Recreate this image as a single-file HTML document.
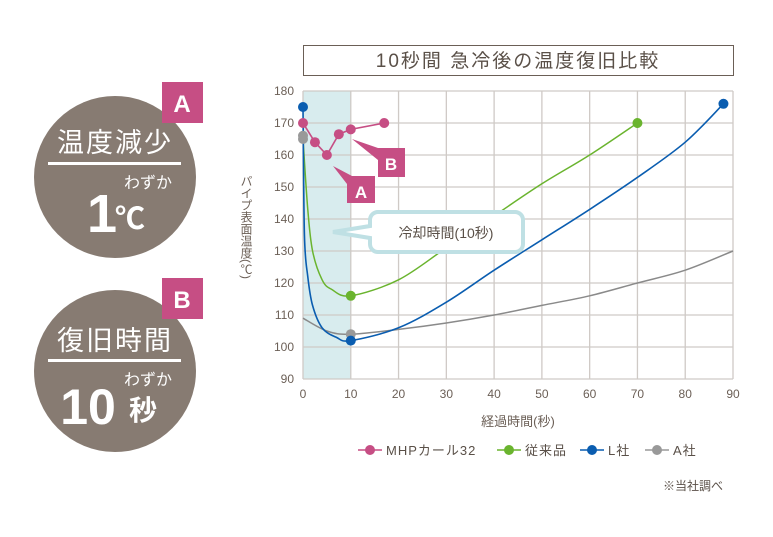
<!DOCTYPE html>
<html><head><meta charset="utf-8">
<style>
html,body{margin:0;padding:0;background:#fff;}
svg{display:block;font-family:"Liberation Sans","Noto Sans CJK JP",sans-serif;}
</style></head><body>
<svg id="c" width="773" height="537" viewBox="0 0 773 537" xmlns="http://www.w3.org/2000/svg">
  <g>
    <circle cx="115" cy="177" r="81" fill="#877b72"/>
    <text x="115" y="152" text-anchor="middle" font-size="27" fill="#fff" letter-spacing="2">温度減少</text>
    <rect x="48" y="162" width="133" height="3" fill="#fff"/>
    <text x="148" y="188" text-anchor="middle" font-size="16" fill="#fff">わずか</text>
    <text x="102" y="232" text-anchor="middle" font-size="54" font-weight="bold" fill="#fff">1</text>
    <text x="130" y="229" text-anchor="middle" font-size="30" font-weight="bold" fill="#fff">℃</text>
  </g>
  <rect x="162" y="82" width="41" height="41" fill="#c64e84"/>
  <text x="182" y="112" text-anchor="middle" font-size="24" font-weight="bold" fill="#fff">A</text>
  <g>
    <circle cx="115" cy="371" r="81" fill="#877b72"/>
    <text x="115" y="350" text-anchor="middle" font-size="27" fill="#fff" letter-spacing="2">復旧時間</text>
    <rect x="48" y="359" width="133" height="3" fill="#fff"/>
    <text x="148" y="385" text-anchor="middle" font-size="16" fill="#fff">わずか</text>
    <text x="88" y="424" text-anchor="middle" font-size="50" font-weight="bold" fill="#fff">10</text>
    <text x="143" y="420" text-anchor="middle" font-size="28" font-weight="bold" fill="#fff">秒</text>
  </g>
  <rect x="162" y="278" width="41" height="41" fill="#c64e84"/>
  <text x="182" y="308" text-anchor="middle" font-size="24" font-weight="bold" fill="#fff">B</text>

  <rect x="303.5" y="45.5" width="430" height="30" fill="#fff" stroke="#6b5f56"/>
  <text x="518" y="67" text-anchor="middle" font-size="19" fill="#5a5048" letter-spacing="2">10秒間 急冷後の温度復旧比較</text>

  <g id="plot"></g>

  <text x="518" y="426" text-anchor="middle" font-size="13" fill="#6b5f56">経過時間(秒)</text>
  <text transform="translate(246,175)" font-size="12" fill="#6b5f56" writing-mode="tb">パイプ表面温度(℃)</text>

  <g id="legend"></g>
  <text x="663" y="490" font-size="12" fill="#5a5048">※当社調べ</text>
</svg>
<script>
const xTicks=[0,10,20,30,40,50,60,70,80,90];
const yTicks=[90,100,110,120,130,140,150,160,170,180];
const mhpX=[0,2.5,5,7.5,10,17];
const mhpY=[170,164,160,166.5,168,170];
const convX=[0,1,2,4,6,10,20,30,40,50,60,70];
const convY=[165,143,130,121,118,116,121,131,141,151,160,170];
const lX=[0,0.3,1,2,4,7,10,20,30,40,50,60,70,80,88];
const lY=[175,135,122,113,106,103,102,106,114,124,133.5,143,153,164,176];
const aX=[0,5,10,20,30,40,50,60,70,80,90];
const aY=[109,105,104,105.5,107.5,110,113,116,120,124,130];
const grayDotX=[0,10];
const grayDotY=[166,104];
const ns="http://www.w3.org/2000/svg";
const X0=303,X1=733,Y0=379,Y1=91;
const sx=v=>X0+(v-0)/(90-0)*(X1-X0);
const sy=v=>Y0-(v-90)/(180-90)*(Y0-Y1);
const plot=document.getElementById('plot');
function mk(tag,attrs,parent){const e=document.createElementNS(ns,tag);for(const k in attrs)e.setAttribute(k,attrs[k]);(parent||plot).appendChild(e);return e;}
let e;
e=mk('rect',{x:sx(0),y:sy(180),width:sx(10)-sx(0),height:sy(90)-sy(180),fill:'#d8ecee'});


xTicks.forEach(t=>{
  e=mk('line',{x1:sx(t),x2:sx(t),y1:sy(180),y2:sy(90),stroke:'#cfcac6','stroke-width':1.3});
  
  
  e=mk('text',{x:sx(t),y:398,'text-anchor':'middle','font-size':12,fill:'#6b5f56'});e.textContent=t;
  
  
});
yTicks.forEach(t=>{
  e=mk('line',{x1:sx(0),x2:sx(90),y1:sy(t),y2:sy(t),stroke:'#cfcac6','stroke-width':1.3});
  
  
  e=mk('text',{x:294,y:sy(t)+4,'text-anchor':'end','font-size':12,fill:'#6b5f56'});e.textContent=t;
  
  
});
function smooth(xs,ys){
  const p=xs.map((x,i)=>[sx(x),sy(ys[i])]);
  let d='M'+p[0][0]+','+p[0][1];
  for(let i=0;i<p.length-1;i++){
    const p0=p[Math.max(0,i-1)],p1=p[i],p2=p[i+1],p3=p[Math.min(p.length-1,i+2)];
    const c1=[p1[0]+(p2[0]-p0[0])/6,p1[1]+(p2[1]-p0[1])/6];
    const c2=[p2[0]-(p3[0]-p1[0])/6,p2[1]-(p3[1]-p1[1])/6];
    d+=' C'+c1+' '+c2+' '+p2;
  }
  return d;
}
e=mk('path',{d:smooth(aX,aY),fill:'none',stroke:'#8a8a8a','stroke-width':1.5});


e=mk('path',{d:smooth(convX,convY),fill:'none',stroke:'#6ab42e','stroke-width':1.5});


e=mk('path',{d:smooth(lX,lY),fill:'none',stroke:'#0a5db0','stroke-width':1.6});


e=mk('polyline',{points:mhpX.map((x,i)=>sx(x)+','+sy(mhpY[i])).join(' '),fill:'none',stroke:'#c64e84','stroke-width':1.6});


function dot(x,y,c,name){e=mk('circle',{cx:sx(x),cy:sy(y),r:5,fill:c});
  
  }
grayDotX.forEach((x,i)=>dot(x,grayDotY[i],'#999','series-a-point'));
dot(convX[0],convY[0],'#999','series-conventional-start');
dot(convX[5],convY[5],'#6ab42e','series-conventional-point');
dot(convX[convX.length-1],convY[convY.length-1],'#6ab42e','series-conventional-point');
dot(lX[0],lY[0],'#0a5db0','series-l-point');
dot(10,102,'#0a5db0','series-l-point');
dot(lX[lX.length-1],lY[lY.length-1],'#0a5db0','series-l-point');
mhpX.forEach((x,i)=>dot(x,mhpY[i],'#c64e84','series-mhp-point'));
// callout
e=mk('path',{d:'M378,212 H515 a8,8 0 0 1 8,8 V244 a8,8 0 0 1 -8,8 H378 a8,8 0 0 1 -8,-8 V238 L333,232 L370,226 V220 a8,8 0 0 1 8,-8 Z',fill:'#fff',stroke:'#bfe0e4','stroke-width':4});


e=mk('text',{x:446,y:238,'text-anchor':'middle','font-size':14,fill:'#5a5048'});e.textContent='冷却時間(10秒)';


// A/B markers
e=mk('path',{d:'M333,166 L352,176 H375 V203 H347 V184 Z',fill:'#c64e84'});


e=mk('text',{x:361,y:198,'text-anchor':'middle','font-size':17,'font-weight':'bold',fill:'#fff'});e.textContent='A';
e=mk('path',{d:'M352,139 L378,148 H405 V177 H378 V160 Z',fill:'#c64e84'});


e=mk('text',{x:391,y:170,'text-anchor':'middle','font-size':17,'font-weight':'bold',fill:'#fff'});e.textContent='B';
// legend
const lg=document.getElementById('legend');
const legendItems=[['MHPカール32','#c64e84',358],['従来品','#6ab42e',497],['L社','#0a5db0',580],['A社','#999',645]];
legendItems.forEach(it=>{
  const g=mk('g',{},lg);
  
  
  mk('line',{x1:it[2],x2:it[2]+24,y1:450,y2:450,stroke:it[1],'stroke-width':1.5},g);
  mk('circle',{cx:it[2]+12,cy:450,r:5,fill:it[1]},g);
  const t=mk('text',{x:it[2]+28,y:455,'font-size':13,fill:'#5a5048','letter-spacing':1},g);t.textContent=it[0];
});
</script>
</body></html>
